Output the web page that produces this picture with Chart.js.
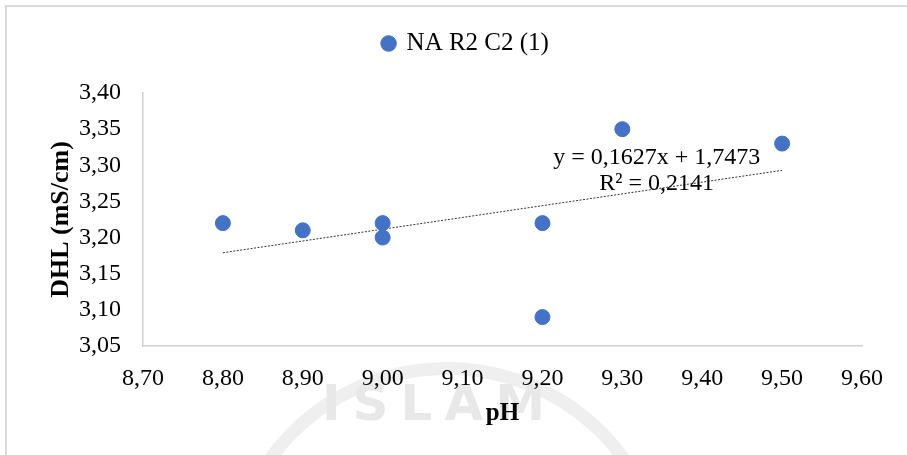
<!DOCTYPE html>
<html>
<head>
<meta charset="utf-8">
<script src="https://cdn.jsdelivr.net/npm/chart.js@4/dist/chart.umd.min.js"></script>
<style>
  html, body { margin: 0; padding: 0; background: #fff; }
  #wrap { position: relative; width: 907px; height: 455px; overflow: hidden; }
  #frame { position: absolute; left: 5px; top: 5px; width: 1000px; height: 1000px;
           border: 2px solid #d9d9d9; box-sizing: border-box; pointer-events: none; }
  #ring { position: absolute; left: 222px; top: 362px; width: 450px; height: 450px;
          border: 13px solid #efefef; border-radius: 50%; box-sizing: border-box; }
  #mark { position: absolute; left: 322px; top: 378px; font: bold 50px "DejaVu Sans", sans-serif;
          line-height: 50px; color: #e8e8e8; letter-spacing: 12px; }
  canvas { position: absolute; left: 0; top: 0; }
</style>
</head>
<body>
<div id="wrap">
  <div id="ring"></div>
  <div id="mark">ISLAM</div>
  <canvas id="dhl-chart" width="907" height="455"></canvas>
  <div id="frame"></div>
</div>
<script>
// Data //

const seriesName = 'NA R2 C2 (1)';
const phValues = [8.8, 8.9, 9.0, 9.0, 9.2, 9.2, 9.3, 9.5];
const dhlValues = [3.22, 3.21, 3.22, 3.20, 3.22, 3.09, 3.35, 3.33];

const trendX = [8.8, 9.5];
const trendY = [3.179, 3.293];
const trendLabels = ['y = 0,1627x + 1,7473', 'R² = 0,2141'];

const xTickLabels = ['8,70', '8,80', '8,90', '9,00', '9,10', '9,20', '9,30', '9,40', '9,50', '9,60'];
const yTickLabels = ['3,05', '3,10', '3,15', '3,20', '3,25', '3,30', '3,35', '3,40'];

const serif = "'Liberation Serif', 'Times New Roman', serif";
const blue = '#4472C4';
const axisGrey = '#d0d0d0';

// Equation text next to the trendline //

const equationPlugin = {
  id: 'equation',
  afterDatasetsDraw(chart) {
    const ctx = chart.ctx;
    const x = chart.scales.x.getPixelForValue(9.343);
    ctx.save();
    ctx.font = '24px ' + serif;
    ctx.fillStyle = '#000';
    ctx.textAlign = 'center';
    ctx.textBaseline = 'middle';
    ctx.fillText(trendLabels[0], x, chart.scales.y.getPixelForValue(3.310));
    ctx.fillText(trendLabels[1], x, chart.scales.y.getPixelForValue(3.275));
    ctx.restore();
  }
};

// extra room under the legend, and nudge it a bit to the right like the original //

const legendGap = {
  id: 'legendGap',
  beforeInit(chart) {
    const origFit = chart.legend.fit;
    chart.legend.fit = function () {
      origFit.bind(chart.legend)();
      this.height += 27;
    };
  },
  afterLayout(chart) {
    chart.legend.left += 14;
    chart.legend.right += 14;
  }
};

const scatterData = {
  datasets: [{
    type: 'scatter',
    label: seriesName,
    data: phValues.map((x, i) => ({ x: x, y: dhlValues[i] })),
    backgroundColor: blue,
    borderColor: blue,
    pointRadius: 7.5,
    pointHoverRadius: 7.5
  }, {
    type: 'line',
    label: 'trend',
    data: trendX.map((x, i) => ({ x: x, y: trendY[i] })),
    borderColor: '#333',
    borderWidth: 1,
    borderDash: [2, 1.5],
    pointRadius: 0,
    fill: false
  }]
};

const scatterOptions = {
  responsive: false,
  animation: { duration: 0 },
  layout: {
    padding: { left: 42, right: 45, top: 21, bottom: 22 }
  },
  scales: {
    x: {
      type: 'linear',
      min: 8.7,
      max: 9.6,
      ticks: {
        stepSize: 0.1,
        padding: 18,
        color: '#000',
        font: { family: serif, size: 24 },
        callback: (v, i) => xTickLabels[i]
      },
      grid: { display: false, drawTicks: false },
      border: { display: true, color: axisGrey, width: 1.5 },
      title: {
        display: true,
        text: 'pH',
        color: '#000',
        font: { family: serif, size: 25, weight: 'bold' }
      },
      afterFit: (scale) => { scale.height = 87; }
    },
    y: {
      min: 3.05,
      max: 3.40,
      ticks: {
        stepSize: 0.05,
        padding: 22,
        color: '#000',
        font: { family: serif, size: 24 },
        callback: (v, i) => yTickLabels[i]
      },
      grid: { display: false, drawTicks: false },
      border: { display: true, color: axisGrey, width: 1.5 },
      title: {
        display: true,
        text: 'DHL (mS/cm)',
        color: '#000',
        font: { family: serif, size: 26, weight: 'bold' }
      },
      afterFit: (scale) => { scale.width = 101; }
    }
  },
  plugins: {
    legend: {
      position: 'top',
      labels: {
        usePointStyle: true,
        pointStyle: 'circle',
        boxWidth: 11,
        boxHeight: 11,
        padding: 10,
        color: '#000',
        font: { family: serif, size: 25 },
        filter: (item) => item.datasetIndex === 0
      }
    },
    tooltip: { enabled: false }
  }
};

let dhlChart = new Chart(document.querySelector('#dhl-chart'), {
  type: 'scatter',
  data: scatterData,
  options: scatterOptions,
  plugins: [legendGap, equationPlugin]
});
</script>
</body>
</html>
